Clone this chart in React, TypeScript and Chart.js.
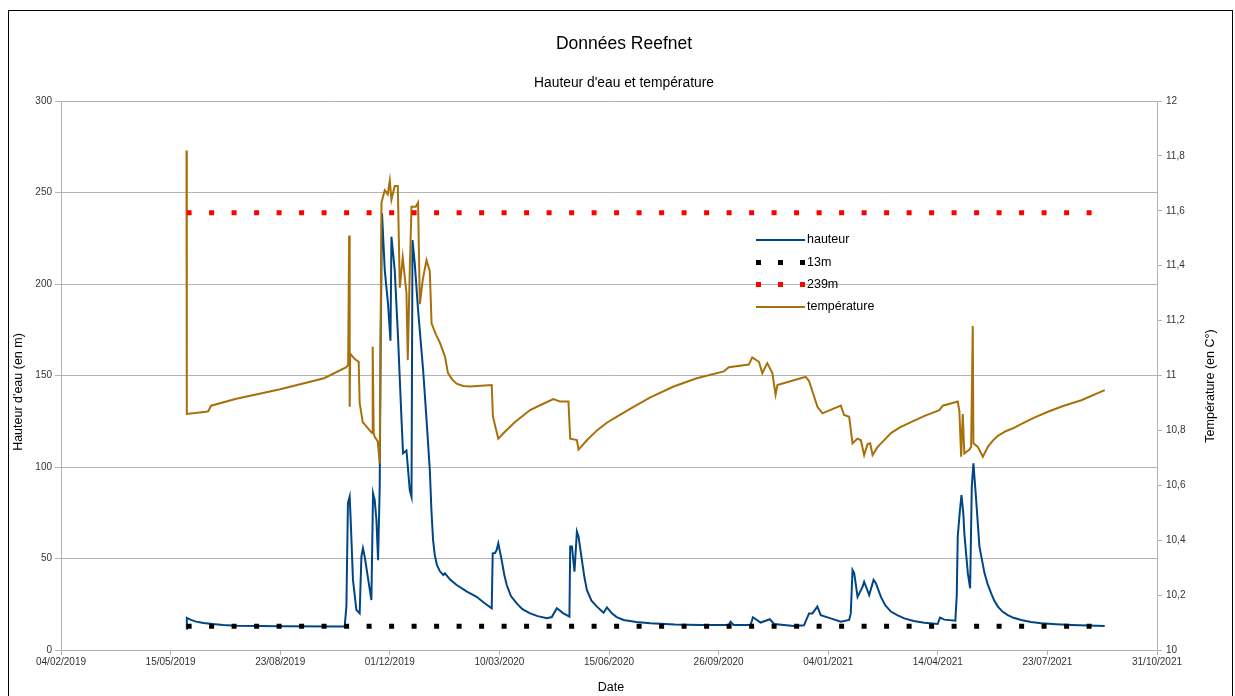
import React, { useEffect, useRef } from 'react';
import { Chart, registerables } from 'chart.js';

Chart.register(...registerables);

const FONT = "'Liberation Sans', Arial, sans-serif";

const chartTitle = 'Données Reefnet';
const chartSubtitle = "Hauteur d'eau et température";
const xAxisTitle = 'Date';
const leftAxisTitle = "Hauteur d'eau (en m)";
const rightAxisTitle = 'Température (en C°)';

// x values are days counted from 04/02/2019
const xTickLabels = [
  '04/02/2019', '15/05/2019', '23/08/2019', '01/12/2019', '10/03/2020', '15/06/2020',
  '26/09/2020', '04/01/2021', '14/04/2021', '23/07/2021', '31/10/2021',
];

const hauteurDays = [
  114.5, 114.8, 118, 123.2, 130, 138.4, 148, 159.8, 200, 257.3, 258.8, 260.4, 261.8, 263.4, 264.3,
  266.4, 269.5, 272.5, 274.1, 275.5, 277.1, 283.2, 284.7, 286.2, 287.8, 289.3, 290.8, 291.7,
  292.9, 295.4, 298.4, 300.6, 301.5, 304.5, 307.5, 310.7, 312.1, 315.2, 318.2, 319.8, 320.7,
  322.8, 325.8, 330.4, 333.5, 336.5, 338, 339.5, 341, 343, 345.7, 348.8, 350.3, 355, 361, 370,
  379.2, 386, 393, 393.9, 396, 397.5, 399, 402.1, 404.5, 406.7, 410.5, 415.8, 421, 428, 435,
  443.3, 447.8, 452.4, 458.4, 463.9, 464.6, 466.2, 468.5, 470.7, 472.2, 475.3, 477.5, 479.8,
  484, 489, 495, 498.1, 502.6, 507, 513.3, 525, 537.7, 560, 583.4, 609.3, 610.9, 613.6, 629.2,
  631.3, 638.3, 646.8, 650.5, 668.8, 677.9, 682.5, 685.6, 690.1, 693.2, 702.3, 711.5, 719.1,
  720.6, 722.2, 723.7, 726.8, 731.4, 732.8, 737.4, 741.4, 743.5, 748.1, 752, 757.2, 763, 769.4,
  778, 787.7, 799.9, 802, 806, 816, 817.3, 818.2, 820, 821.6, 823.3, 824.2, 827.4, 829.5, 831,
  832.5, 835, 838, 842.6, 845.5, 848.7, 851.5, 854.8, 859, 863.9, 869, 876.1, 885, 894.4, 908,
  921.8, 952.3,
];
const hauteurValues = [
  11.5, 17.6, 16.6, 15.5, 14.8, 14.2, 13.7, 13.3, 13, 12.8, 12.8, 23.7, 80.2, 83.8, 71,
  38.3, 21.9, 20, 51, 55.6, 51, 27.3, 85.6, 82, 71, 49, 89, 171,
  238.6, 207.6, 189, 169, 225.8, 207.6, 171, 125.7, 107.5, 109, 87.4, 83.8, 224,
  211, 185.8, 153, 126, 98.4, 76, 60, 52, 46.5, 43, 41, 41.9, 38.5, 35.5, 32,
  29.1, 25.8, 22.8, 52.8, 53, 54.6, 58.3, 49, 41, 35.5, 29.5, 25.5, 22.3, 20, 18.5,
  17.3, 18, 22.8, 20, 18.2, 56.5, 56.5, 42.8, 64.7, 62, 49, 40, 32.8,
  27, 23.7, 20.4, 23.3, 20, 18, 16.4, 15.3, 14.6, 14, 13.7, 13.7, 15.5, 13.7, 13.7,
  17.9, 15, 16.8, 14.2, 13.1, 13.5, 20, 20, 23.7, 19, 17.3, 15.5, 16.4,
  20, 43.7, 42, 29, 34.6, 37.3, 30, 38.3, 36.5, 29, 24.5, 21, 19, 17.3,
  15.9, 14.9, 14.2, 17.7, 16.6, 16, 30, 62, 75, 84.7, 74.7, 63.7, 42, 33.7, 89.2,
  102, 82, 56.5, 42, 36, 31, 27, 23.7, 21, 19.1, 17.6, 16.4, 15.3, 14.6, 14.1,
  13.7, 13.1,
];

const tempDays = [
  114.5, 114.8, 132.3, 134.4, 136.9, 160, 200, 240, 260.4, 262, 262.9, 263.4, 263.8, 268, 271.6,
  272.5, 275.3, 281.7, 284, 284.4, 285.3, 286.2, 289, 290.8, 292.4, 295.4, 298.1, 300, 301.5,
  304.5, 307.3, 309.1, 311.8, 315.2, 316.4, 318.2, 319.8, 323.7, 325.8, 327.4, 330.1, 333.5,
  336.5, 338.1, 342, 345.7, 350.3, 353, 357, 361, 367, 373.1, 393, 394.1, 399, 405, 414, 428,
  440, 449.3, 455.4, 463, 464.6, 470.7, 472.2, 480, 489, 498, 507.3, 520, 537.7, 559, 580,
  604.8, 609.3, 627.6, 630.7, 636.8, 639.9, 644.4, 649, 652, 653.6, 674.9, 679.5, 682.5, 690.2,
  694.7, 711.5, 714.5, 719.1, 722.2, 726.7, 729.8, 732.8, 735.9, 738.3, 740.5, 745.1, 750,
  757.3, 765, 775.5, 788, 801.4, 804.5, 818.2, 819.7, 821.3, 822.8, 824.2, 828.8, 830.4, 831.9,
  832.5, 836.5, 841.1, 845.7, 850, 854.8, 862, 870, 874.6, 887, 900.5, 915, 931, 952.3,
];
const tempValues = [
  11.82, 10.86, 10.868, 10.87, 10.89, 10.915, 10.95, 10.99, 11.03, 11.04, 11.51, 10.886, 11.08, 11.06, 11.05,
  10.9, 10.83, 10.8, 10.79, 11.105, 10.79, 10.777, 10.76, 10.68, 11.63, 11.675, 11.66, 11.71, 11.64,
  11.69, 11.69, 11.32, 11.43, 11.3, 11.056, 11.38, 11.615, 11.615, 11.63, 11.26, 11.35, 11.42,
  11.38, 11.19, 11.15, 11.12, 11.07, 11.01, 10.985, 10.97, 10.962, 10.96, 10.965, 10.85, 10.77, 10.795, 10.83, 10.874,
  10.897, 10.914, 10.905, 10.905, 10.77, 10.765, 10.73, 10.765, 10.8, 10.828, 10.85, 10.88, 10.92, 10.96, 10.99,
  11.015, 11.03, 11.04, 11.066, 11.05, 11.008, 11.045, 11.01, 10.93, 10.965, 10.99, 10.995, 10.98, 10.886,
  10.862, 10.89, 10.856, 10.85, 10.753, 10.77, 10.764, 10.71, 10.75, 10.753, 10.71, 10.74, 10.76,
  10.79, 10.81, 10.83, 10.853, 10.874, 10.89, 10.905, 10.87, 10.704, 10.86, 10.716, 10.73, 10.74, 11.18,
  10.753, 10.74, 10.704, 10.74, 10.762, 10.78, 10.797, 10.81, 10.82, 10.845, 10.868, 10.89, 10.91, 10.947,
];

const seuilDays = [114.6, 952.3];
const seuil13 = [13, 13];
const seuil239 = [239, 239];

const legendLabels = ['hauteur', '13m', '239m', 'température'];

const BLUE = '#004586';
const BROWN = '#a8700a';
const GRID = '#b3b3b3';
const TEXT = '#333333';

const pts = (xs: number[], ys: number[]) => xs.map((x, i) => ({ x, y: ys[i] }));

const decorPlugin = {
  id: 'decor',
  beforeDraw(chart: any) {
    const { ctx, width, height } = chart;
    ctx.save();
    ctx.fillStyle = '#ffffff';
    ctx.fillRect(0, 0, width, height);
    ctx.strokeStyle = '#000000';
    ctx.lineWidth = 1;
    ctx.strokeRect(8.5, 10.5, 1224, 720);
    ctx.restore();
  },
  afterDraw(chart: any) {
    const { ctx } = chart;
    ctx.save();
    ctx.fillStyle = '#000000';
    ctx.textAlign = 'center';
    ctx.textBaseline = 'middle';
    ctx.font = `17.5px ${FONT}`;
    ctx.fillText(chartTitle, 624, 44);
    ctx.font = `13.8px ${FONT}`;
    ctx.fillText(chartSubtitle, 624, 83);
    ctx.font = `12.5px ${FONT}`;
    ctx.fillText(xAxisTitle, 611, 688);
    ctx.save();
    ctx.translate(19, 392);
    ctx.rotate(-Math.PI / 2);
    ctx.fillText(leftAxisTitle, 0, 0);
    ctx.restore();
    ctx.save();
    ctx.translate(1211, 386);
    ctx.rotate(-Math.PI / 2);
    ctx.fillText(rightAxisTitle, 0, 0);
    ctx.restore();

    // legend
    const rows = [240, 262.5, 284.5, 307];
    const x0 = 756;
    const x1 = 805;
    ctx.font = `12.5px ${FONT}`;
    ctx.textAlign = 'left';
    legendLabels.forEach((label, i) => {
      const y = rows[i];
      ctx.save();
      if (i === 0 || i === 3) {
        ctx.strokeStyle = i === 0 ? BLUE : BROWN;
        ctx.lineWidth = 2;
        ctx.beginPath();
        ctx.moveTo(x0, y);
        ctx.lineTo(x1, y);
        ctx.stroke();
      } else {
        ctx.fillStyle = i === 1 ? '#000000' : '#ff0000';
        [756, 778, 800].forEach((sx) => ctx.fillRect(sx, y - 2.5, 5, 5));
      }
      ctx.restore();
      ctx.fillStyle = '#000000';
      ctx.fillText(label, 807, y);
    });
    ctx.restore();
  },
};

export default function App() {
  const ref = useRef<HTMLCanvasElement | null>(null);

  useEffect(() => {
    if (!ref.current) return;
    const tickFont = { size: 10, family: FONT };
    const chart = new Chart(ref.current, {
      type: 'line',
      data: {
        datasets: [
          {
            label: '239m',
            data: pts(seuilDays, seuil239),
            yAxisID: 'y',
            borderColor: '#ff0000',
            borderWidth: 5,
            borderDash: [5, 17.5],
            borderCapStyle: 'butt',
            pointRadius: 0,
            fill: false,
          },
          {
            label: '13m',
            data: pts(seuilDays, seuil13),
            yAxisID: 'y',
            borderColor: '#000000',
            borderWidth: 5,
            borderDash: [5, 17.5],
            borderCapStyle: 'butt',
            pointRadius: 0,
            fill: false,
          },
          {
            label: 'température',
            data: pts(tempDays, tempValues),
            yAxisID: 'y1',
            borderColor: BROWN,
            borderWidth: 2,
            pointRadius: 0,
            tension: 0,
            fill: false,
          },
          {
            label: 'hauteur',
            data: pts(hauteurDays, hauteurValues),
            yAxisID: 'y',
            borderColor: BLUE,
            borderWidth: 2,
            pointRadius: 0,
            tension: 0,
            fill: false,
          },
        ],
      } as any,
      options: {
        responsive: false,
        animation: false,
        devicePixelRatio: 1,
        layout: { padding: { top: 101, left: 0, right: 0, bottom: 0 } },
        plugins: {
          legend: { display: false },
          title: { display: false },
          tooltip: { enabled: false },
        },
        scales: {
          x: {
            type: 'linear',
            position: 'bottom',
            min: 0,
            max: 1000,
            ticks: {
              stepSize: 100,
              autoSkip: false,
              maxRotation: 0,
              padding: 1,
              color: TEXT,
              font: tickFont,
              callback: (v: any) => xTickLabels[Math.round(Number(v) / 100)] ?? '',
            },
            grid: { drawOnChartArea: false, drawTicks: true, tickLength: 5, color: GRID },
            border: { color: GRID },
            afterFit: (s: any) => {
              s.height = 46;
            },
          },
          y: {
            position: 'left',
            min: 0,
            max: 300,
            ticks: { stepSize: 50, padding: 3, color: TEXT, font: tickFont },
            grid: { color: GRID, tickLength: 6 },
            border: { color: GRID },
            afterFit: (s: any) => {
              s.width = 61;
            },
          },
          y1: {
            position: 'right',
            min: 10,
            max: 12,
            ticks: {
              stepSize: 0.2,
              padding: 4,
              color: TEXT,
              font: tickFont,
              callback: (v: any) => String(Number(Number(v).toFixed(1))).replace('.', ','),
            },
            grid: { drawOnChartArea: false, tickLength: 5, color: GRID },
            border: { color: GRID },
            afterFit: (s: any) => {
              s.width = 78;
            },
          },
        },
      } as any,
      plugins: [decorPlugin],
    });
    return () => chart.destroy();
  }, []);

  return (
    <canvas
      ref={ref}
      width={1235}
      height={696}
      style={{ position: 'absolute', left: 0, top: 0, width: 1235, height: 696, display: 'block' }}
    />
  );
}
